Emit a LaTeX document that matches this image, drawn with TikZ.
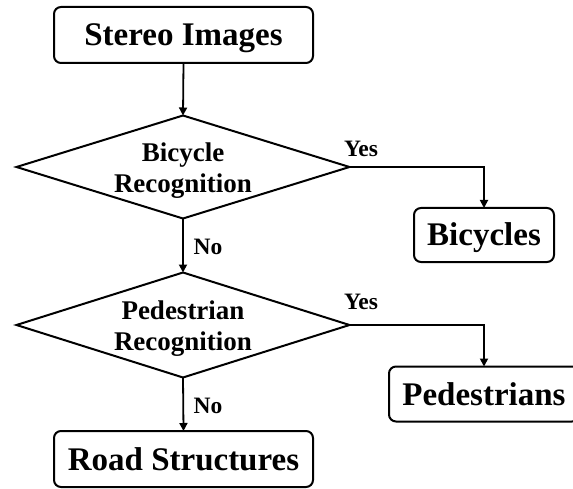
\documentclass[tikz,border=0pt]{standalone}
\usepackage{fontspec}
\setmainfont{Liberation Serif}
\usetikzlibrary{shapes.geometric,arrows.meta}
\begin{document}
\begin{tikzpicture}[x=1pt,y=-1pt,
  box/.style={draw,line width=2pt,rounded corners=7pt,inner sep=0pt,outer sep=0pt,text height=22pt,text depth=0pt,font=\fontsize{33}{39}\selectfont\bfseries},
  decision/.style={draw,diamond,line width=2pt,inner sep=0pt,outer sep=0pt},
  dtext/.style={align=center,inner sep=0pt,font=\fontsize{27}{31.6}\selectfont\bfseries},
  lbl/.style={inner sep=0pt,font=\fontsize{23.5}{27}\selectfont\bfseries},
  conn/.style={line width=1.8pt,-{Triangle[length=8pt,width=8pt]}}]
\clip (0,0) rectangle (573,489);
\node[box,minimum width=259pt,minimum height=56pt] (stereo) at (183.5,35) {Stereo Images};
\node[decision,minimum width=333pt,minimum height=103pt] (d1) at (183,167) {};
\node[dtext] (t1) at (183,170.5) {Bicycle\\Recognition};
\node[box,minimum width=140pt,minimum height=54pt] (bic) at (484,235) {Bicycles};
\node[decision,minimum width=333pt,minimum height=105pt] (d2) at (183,325) {};
\node[dtext] (t2) at (183,328.5) {Pedestrian\\Recognition};
\node[box,minimum width=190pt,minimum height=55pt] (ped) at (484,394) {Pedestrians};
\node[box,minimum width=259pt,minimum height=56pt] (road) at (183.5,459) {Road Structures};
\node[lbl] (y1) at (361,148.5) {Yes};
\node[lbl] (n1) at (208,247) {No};
\node[lbl] (y2) at (361,302) {Yes};
\node[lbl] (n2) at (208,406) {No};
\draw[conn] (stereo.south) -- (d1.north);
\draw[conn] (d1.east) -| (bic.north);
\draw[conn] (d1.south) -- (d2.north);
\draw[conn] (d2.east) -| (ped.north);
\draw[conn] (d2.south) -- (road.north);
\end{tikzpicture}
\end{document}
